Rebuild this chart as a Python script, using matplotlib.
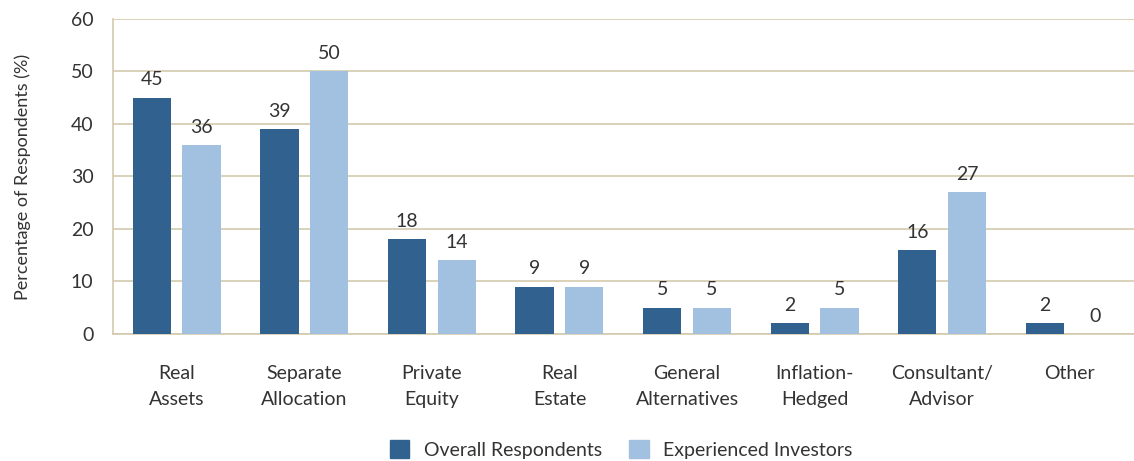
import matplotlib
matplotlib.use("Agg")
import matplotlib.pyplot as plt
import numpy as np
from matplotlib.patches import Patch

categories = ["Real\nAssets", "Separate\nAllocation", "Private\nEquity", "Real\nEstate",
              "General\nAlternatives", "Inflation-\nHedged", "Consultant/\nAdvisor", "Other"]
overall = [45, 39, 18, 9, 5, 2, 16, 2]
experienced = [36, 50, 14, 9, 5, 5, 27, 0]
series_names = ["Overall Respondents", "Experienced Investors"]

dark = "#31618f"
light = "#a2c0df"
grid_c = "#d3c9ae"
text_c = "#333333"

plt.rcParams['font.family'] = ['Lato', 'DejaVu Sans']

fig = plt.figure(figsize=(11.34, 4.61), dpi=100)
ax = fig.add_axes([0.0996, 0.2755, 0.9, 0.6833])

x = np.arange(len(categories))
w = 0.3
off = 0.195
ax.bar(x - off, overall, w, color=dark, zorder=3)
ax.bar(x + off, experienced, w, color=light, zorder=3)

for xi, v in zip(x, overall):
    ax.text(xi - off, v + 1.8, str(v), ha='center', va='bottom', fontsize=14, color=text_c)
for xi, v in zip(x, experienced):
    ax.text(xi + off, v + 1.8, str(v), ha='center', va='bottom', fontsize=14, color=text_c)

ax.set_xlim(-0.5, len(categories) - 0.5)
ax.set_ylim(0, 60)
ax.set_yticks(range(0, 61, 10))
ax.yaxis.grid(True, color=grid_c, linewidth=1.2, zorder=0)
ax.set_axisbelow(True)
for s in ['top', 'right']:
    ax.spines[s].set_visible(False)
ax.spines['left'].set_color(grid_c)
ax.spines['left'].set_linewidth(1.2)
ax.spines['bottom'].set_color(grid_c)
ax.spines['bottom'].set_linewidth(1.2)
ax.tick_params(axis='both', length=0, labelsize=14, colors=text_c)
ax.tick_params(axis='y', pad=14)
ax.tick_params(axis='x', pad=22)
ax.set_xticks(x)
ax.set_xticklabels(categories, linespacing=1.7)
ax.set_ylabel("Percentage of Respondents (%)", fontsize=13, color=text_c)
ax.yaxis.set_label_coords(-0.08, 0.5)

handles = [Patch(color=dark), Patch(color=light)]
fig.legend(handles, series_names, loc='center', bbox_to_anchor=(0.548, 0.025),
           ncol=2, frameon=False, fontsize=14, handlelength=1.0, handleheight=1.0,
           columnspacing=1.4, handletextpad=0.75, labelcolor=text_c)

fig.savefig("out.png", dpi=100)
